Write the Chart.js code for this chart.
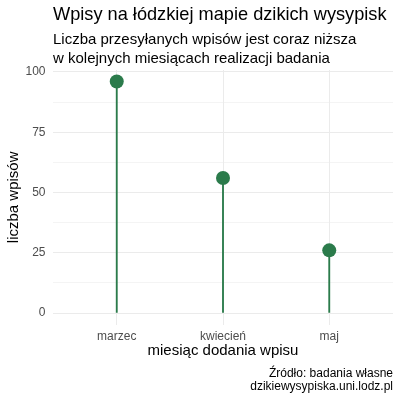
<!DOCTYPE html>
<html>
<head>
<meta charset="utf-8">
<script src="https://cdn.jsdelivr.net/npm/chart.js@4"></script>
<style>
  body { margin: 0; background: #fff; }
</style>
</head>
<body>
<canvas id="myChart" width="400" height="400"></canvas>
<script>
var months = ["marzec", "kwiecień", "maj"];
var entries = [96, 56, 26];
var yTicks = [0, 25, 50, 75, 100];
var yMinorTicks = [12.5, 37.5, 62.5, 87.5];

var title = "Wpisy na łódzkiej mapie dzikich wysypisk";
var subtitle = ["Liczba przesyłanych wpisów jest coraz niższa", "w kolejnych miesiącach realizacji badania"];
var caption = ["Źródło: badania własne", "dzikiewysypiska.uni.lodz.pl"];

var green = "#2b7b4b";
var family = "'Liberation Sans', Arial, sans-serif";

// titles and caption, lined up with the plot panel like ggplot does
var textPlugin = {
  id: "texts",
  afterDraw: function (chart) {
    var ctx = chart.ctx;
    var area = chart.chartArea;
    ctx.save();
    ctx.fillStyle = "#000";
    ctx.textBaseline = "alphabetic";
    ctx.textAlign = "left";
    ctx.font = "18.2px " + family;
    ctx.fillText(title, area.left, 20);
    ctx.font = "15px " + family;
    ctx.fillText(subtitle[0], area.left, 43.5);
    ctx.fillText(subtitle[1], area.left, 62.5);
    ctx.textAlign = "right";
    ctx.font = "12px " + family;
    ctx.fillText(caption[0], area.right, 377);
    ctx.fillText(caption[1], area.right, 389.5);
    ctx.restore();
  }
};

function createChart() {
  var ctx = document.getElementById("myChart").getContext("2d");
  var points = months.map(function (m, i) {
    return { x: i + 1, y: entries[i] };
  });

  new Chart(ctx, {
    type: "bar",
    data: {
      datasets: [
        {
          type: "line",
          data: points,
          showLine: false,
          pointRadius: 7,
          pointHoverRadius: 7,
          pointBackgroundColor: green,
          pointBorderWidth: 0,
          order: 1,
        },
        {
          type: "bar",
          data: points,
          backgroundColor: green,
          barThickness: 1.2,
          order: 2,
        },
      ],
    },
    options: {
      responsive: false,
      animation: false,
      devicePixelRatio: 1,
      layout: { padding: { left: 0, right: 7, top: 70, bottom: 39.4 } },
      plugins: {
        legend: { display: false },
        tooltip: { enabled: false },
      },
      scales: {
        x: {
          type: "linear",
          min: 0.4,
          max: 3.6,
          offset: false,
          afterBuildTicks: function (scale) {
            scale.ticks = months.map(function (m, i) { return { value: i + 1 }; });
          },
          afterFit: function (scale) { scale.height = 36; },
          grid: { color: "#ebebeb", lineWidth: 1, drawTicks: false, offset: false },
          border: { display: false },
          ticks: {
            autoSkip: false,
            maxRotation: 0,
            padding: 5,
            color: "#4d4d4d",
            font: { size: 12, family: family },
            callback: function (v) { return months[v - 1]; },
          },
          title: {
            display: true,
            text: "miesiąc dodania wpisu",
            color: "#000",
            font: { size: 15, family: family },
            padding: { top: 0, bottom: 1 },
          },
        },
        y: {
          min: -4.8,
          max: 100.8,
          afterBuildTicks: function (scale) {
            scale.ticks = yTicks.concat(yMinorTicks).map(function (v) { return { value: v }; });
          },
          afterFit: function (scale) { scale.width = 53; },
          grid: {
            color: "#ebebeb",
            drawTicks: false,
            lineWidth: function (c) {
              return c.tick && yTicks.indexOf(c.tick.value) >= 0 ? 1 : 0.55;
            },
          },
          border: { display: false },
          ticks: {
            autoSkip: false,
            padding: 7.5,
            color: "#4d4d4d",
            font: { size: 12, family: family },
            callback: function (v) { return yTicks.indexOf(v) >= 0 ? v : ""; },
          },
          title: {
            display: true,
            text: "liczba wpisów",
            color: "#000",
            font: { size: 15, family: family },
            padding: { top: 5, bottom: 0 },
          },
        },
      },
    },
    plugins: [textPlugin],
  });
}
createChart();
</script>
</body>
</html>
